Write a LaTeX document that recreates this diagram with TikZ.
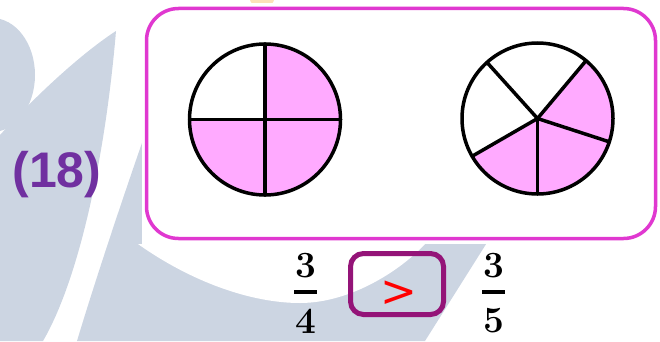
\documentclass[tikz,border=0pt]{standalone}
\usepackage[no-math]{fontspec}
\newfontfamily\labelfont{Liberation Sans}
\newfontfamily\signfont{DejaVu Sans}
\definecolor{qpurple}{RGB}{112,48,160}
\definecolor{qmagenta}{RGB}{224,56,208}
\definecolor{qplum}{RGB}{148,20,120}
\definecolor{qpink}{RGB}{255,170,255}
\definecolor{qred}{RGB}{255,0,0}
\definecolor{qwater}{RGB}{204,213,226}
\definecolor{qpeach}{RGB}{252,226,184}
\usetikzlibrary{positioning}
\newcommand{\boldfrac}[2]{\vbox{\hbox to 23pt{\hss\textbf{#1}\hss}\kern12pt
  \hrule height 4pt\kern15pt\hbox to 23pt{\hss\textbf{#2}\hss}}}
\tikzset{
    panel/.style={
        draw=qmagenta, line width=3.5pt, rounded corners=32pt, fill=white,
        minimum width=509pt, minimum height=230pt, inner sep=0pt
    },
    slice/.style={fill=qpink},
    pierim/.style={draw=black, line width=3.5pt},
    spoke/.style={draw=black, line width=3.5pt, line cap=round},
    cmpbox/.style={
        draw=qplum, line width=5pt, rounded corners=13pt,
        minimum width=93pt, minimum height=61pt, inner sep=0pt
    },
    fraclabel/.style={inner sep=0pt, font=\fontsize{37}{39}\selectfont},
    wmark/.style={fill=qwater}
}

\begin{document}
\begin{tikzpicture}[x=1pt,y=1pt]
\useasboundingbox (0,0) rectangle (660,341);
% faint watermark behind
\fill[wmark] (-8,266) ellipse[x radius=43, y radius=57];
\fill[wmark] (0,206) .. controls (40,250) and (85,290) .. (116,310)
  .. controls (105,180) and (78,60) .. (43,0) -- (0,0) -- cycle;
\fill[wmark] (150,221) .. controls (125,150) and (95,60) .. (77,0) -- (425,0)
  -- (488,100) -- (488,221) -- cycle;
\fill[white] (138,97) .. controls (190,60) and (250,38) .. (300,38)
  .. controls (350,38) and (400,70) .. (425,97) -- cycle;
\fill[qpeach] (262,341) ellipse[x radius=12, y radius=6];
\fill[white] (142,97) rectangle (658,338);

\node[panel] (panel) at (401,217.5) {};
\coordinate (c1) at (265,221.5);
\coordinate (c2) at (537.5,222.5);

% three quarters
\fill[slice] (c1) -- ++(-90:75.5) arc[start angle=-90, end angle=90, radius=75.5] -- cycle;
\fill[slice] (c1) -- ++(180:75.5) arc[start angle=180, end angle=270, radius=75.5] -- cycle;
\foreach \a in {0,90,180,270}
  \draw[spoke] (c1) -- ++(\a:75.5);
\draw[pierim] (c1) circle[radius=75.5];

% three fifths
\fill[slice] (c2) -- ++(210:75.5) arc[start angle=210, end angle=410, radius=75.5] -- cycle;
\foreach \a in {-18,50,132,210,270}
  \draw[spoke] (c2) -- ++(\a:75.5);
\draw[pierim] (c2) circle[radius=75.5];

\node[font=\labelfont\bfseries\fontsize{50}{52}\selectfont, text=qpurple]
  (qnum) at (57,166) {(18)};

\node[cmpbox] (cmp) at (397,57) {};
\node[font=\signfont\fontsize{44}{46}\selectfont, text=qred, inner sep=0pt]
  (sign) at (399,47.5) {>};
\node[fraclabel] (f34) at (305.5,48) {\boldfrac{3}{4}};
\node[fraclabel] (f35) at (493.5,48) {\boldfrac{3}{5}};
\end{tikzpicture}
\end{document}
